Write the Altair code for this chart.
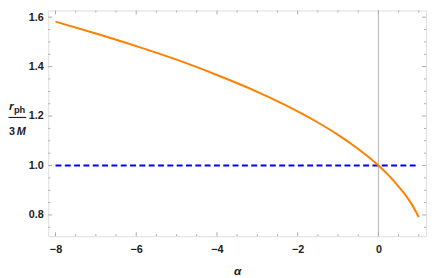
import altair as alt
import pandas as pd

# ---- data ----
alpha = [-8, -7, -6, -5, -4, -3, -2, -1.5, -1, -0.5, -0.25, 0, 0.25, 0.5, 0.6, 0.75, 0.9, 0.95, 1]
ratio = [1.582, 1.534, 1.483, 1.428, 1.366, 1.298, 1.219, 1.174, 1.124, 1.067, 1.035,
         1.0, 0.961, 0.915, 0.895, 0.862, 0.822, 0.807, 0.791]
ref_alpha = [-8, 1]
ref_value = [1.0, 1.0]

x_major = [-8, -6, -4, -2, 0]
x_minor = [v / 2 for v in range(-16, 3) if (v / 2) not in x_major]
y_major = [0.8, 1.0, 1.2, 1.4, 1.6]
y_minor = [round(0.75 + 0.05 * i, 2) for i in range(18) if round(0.75 + 0.05 * i, 2) not in y_major]

X_DOMAIN = [-8.18, 1.18]
Y_DOMAIN = [0.714, 1.627]

W, H = 385, 230
FONT = "Liberation Sans"
FRAME = "#a8a8a8"
LABEL = "#222222"

xs = alt.Scale(domain=X_DOMAIN, nice=False, zero=False)
ys = alt.Scale(domain=Y_DOMAIN, nice=False, zero=False)

curve_df = pd.DataFrame({"alpha": alpha, "ratio": ratio})
ref_df = pd.DataFrame({"alpha": ref_alpha, "ratio": ref_value})

x_axis = alt.Axis(values=x_major, ticks=False, domain=False, grid=False,
                  labelFont=FONT, labelFontSize=11, labelFontWeight="bold",
                  labelColor=LABEL, labelPadding=8, labelExpr="replace(datum.label, '-', '−')",
                  title="α", titleFont=FONT, titleFontSize=12, titleFontStyle="italic",
                  titleFontWeight="bold", titleColor=LABEL, titlePadding=11)
y_axis = alt.Axis(values=y_major, ticks=False, domain=False, grid=False, format=".1f",
                  labelFont=FONT, labelFontSize=11, labelFontWeight="bold",
                  labelColor=LABEL, labelPadding=5, title=None)

base_axes = alt.Chart(curve_df).mark_line(opacity=0).encode(
    x=alt.X("alpha:Q", scale=xs, axis=x_axis),
    y=alt.Y("ratio:Q", scale=ys, axis=y_axis),
)

vline = alt.Chart(pd.DataFrame({"v": [0]})).mark_rule(color="#b4b4b4", strokeWidth=1).encode(
    x=alt.X("v:Q", scale=xs)
)

ref_line = alt.Chart(ref_df).mark_line(color="#0000ff", strokeWidth=2, strokeDash=[6, 3.5]).encode(
    x=alt.X("alpha:Q", scale=xs), y=alt.Y("ratio:Q", scale=ys)
)

curve = alt.Chart(curve_df).mark_line(color="#ff8000", strokeWidth=2, interpolate="monotone").encode(
    x=alt.X("alpha:Q", scale=xs), y=alt.Y("ratio:Q", scale=ys)
)


def xticks(vals, length):
    d = pd.DataFrame({"t": vals})
    bottom = alt.Chart(d).mark_rule(color=FRAME, strokeWidth=1).encode(
        x=alt.X("t:Q", scale=xs), y=alt.value(H), y2=alt.value(H - length))
    top = alt.Chart(d).mark_rule(color=FRAME, strokeWidth=1).encode(
        x=alt.X("t:Q", scale=xs), y=alt.value(0), y2=alt.value(length))
    return [bottom, top]


def yticks(vals, length):
    d = pd.DataFrame({"t": vals})
    left = alt.Chart(d).mark_rule(color=FRAME, strokeWidth=1).encode(
        y=alt.Y("t:Q", scale=ys), x=alt.value(0), x2=alt.value(length))
    right = alt.Chart(d).mark_rule(color=FRAME, strokeWidth=1).encode(
        y=alt.Y("t:Q", scale=ys), x=alt.value(W), x2=alt.value(W - length))
    return [left, right]


ticks = xticks(x_major, 4) + xticks(x_minor, 2) + yticks(y_major, 4) + yticks(y_minor, 2)

one = pd.DataFrame({"k": [0]})


def label(txt, x, y, size, style="normal", align="left"):
    return alt.Chart(one).mark_text(
        text=txt, font=FONT, fontSize=size, fontStyle=style, fontWeight="bold",
        color=LABEL, align=align, baseline="alphabetic"
    ).encode(x=alt.value(x), y=alt.value(y))


title_parts = [
    label("r", -40, 101, 12, "italic"),
    label("ph", -35, 104, 9.5),
    alt.Chart(one).mark_rule(color=LABEL, strokeWidth=1.2).encode(
        x=alt.value(-40.5), x2=alt.value(-22.5), y=alt.value(109)),
    label("3", -40, 127, 11),
    label("M", -32, 127, 11, "italic"),
]

chart = alt.layer(base_axes, vline, *ticks, ref_line, curve, *title_parts).properties(
    width=W, height=H,
    autosize=alt.AutoSizeParams(type="none"),
    padding={"left": 41, "top": 0, "right": 2, "bottom": 38},
).configure_view(stroke=FRAME, strokeWidth=1.2).configure(background="white")

chart.save("out.html", embed_options={"renderer": "svg", "actions": False})
